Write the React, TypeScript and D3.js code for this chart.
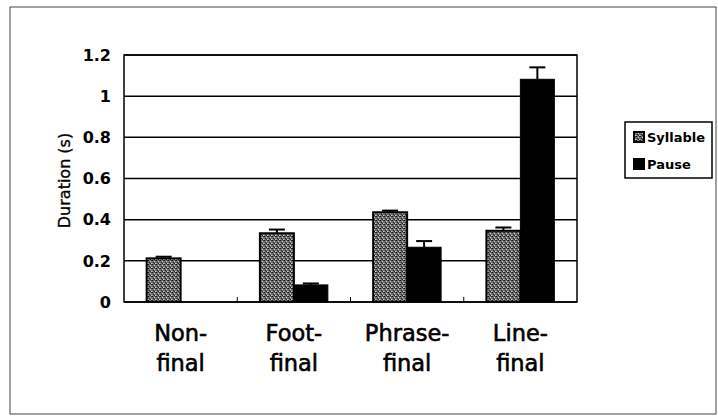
import React from "react";
import * as d3 from "d3";

const categories = ["Non-final", "Foot-final", "Phrase-final", "Line-final"];
const categoryLines = [["Non-", "final"], ["Foot-", "final"], ["Phrase-", "final"], ["Line-", "final"]];
const series = ["Syllable", "Pause"];
const syllableValues = [0.212, 0.334, 0.436, 0.346];
const syllableErrors = [0.008, 0.018, 0.008, 0.016];
const pauseValues = [0, 0.083, 0.266, 1.082];
const pauseErrors = [0, 0.007, 0.03, 0.058];
const yTicks = [0, 0.2, 0.4, 0.6, 0.8, 1, 1.2];

export default function App() {
  const W = 718, H = 420;
  const left = 124, right = 577, top = 55, bottom = 302;
  const x = d3.scaleBand<string>().domain(categories).range([left, right]).paddingInner(0.4).paddingOuter(0.2);
  const xs = d3.scaleBand<string>().domain(series).range([0, x.bandwidth()]);
  const y = d3.scaleLinear().domain([0, 1.2]).range([bottom, top]);
  const step = x.step();
  const font = "'DejaVu Sans', Verdana, sans-serif";
  const data = [
    { key: "Syllable", values: syllableValues, errs: syllableErrors },
    { key: "Pause", values: pauseValues, errs: pauseErrors },
  ];
  return (
    <svg width={W} height={H} style={{ position: "absolute", left: 0, top: 0, background: "#fff" }}>
      <defs>
        <pattern id="stipple" width="4" height="4" patternUnits="userSpaceOnUse">
          <rect width="4" height="4" fill="#6e6e6e" />
          <rect x="0" y="0" width="1" height="1" fill="#111" />
          <rect x="2" y="1" width="1" height="1" fill="#c8c8c8" />
          <rect x="1" y="2" width="1" height="1" fill="#222" />
          <rect x="3" y="3" width="1" height="1" fill="#d0d0d0" />
          <rect x="3" y="0" width="1" height="1" fill="#333" />
          <rect x="0" y="3" width="1" height="1" fill="#999" />
          <rect x="2" y="3" width="1" height="1" fill="#222" />
        </pattern>
      </defs>
      <rect x={10} y={7} width={706} height={407} fill="none" stroke="#444" strokeWidth={1} />
      {yTicks.map((t) => (
        <line key={t} x1={left} x2={right} y1={y(t)} y2={y(t)} stroke="#000" strokeWidth={1.5} />
      ))}
      <rect x={left} y={top} width={right - left} height={bottom - top} fill="none" stroke="#000" strokeWidth={1.5} />
      {[1, 2, 3].map((i) => (
        <line key={i} x1={left + i * step} x2={left + i * step} y1={bottom} y2={bottom - 5} stroke="#000" strokeWidth={1} />
      ))}
      {data.map((s) =>
        categories.map((c, i) => {
          const bx = (x(c) as number) + (xs(s.key) as number);
          const bw = xs.bandwidth();
          const v = s.values[i];
          if (v <= 0) return null;
          const cx = bx + bw / 2;
          return (
            <g key={s.key + c}>
              <line x1={cx} x2={cx} y1={y(v)} y2={y(v + s.errs[i])} stroke="#000" strokeWidth={2} />
              <line x1={cx - 8} x2={cx + 8} y1={y(v + s.errs[i])} y2={y(v + s.errs[i])} stroke="#000" strokeWidth={2} />
              <rect
                x={bx}
                y={y(v)}
                width={bw}
                height={bottom - y(v)}
                fill={s.key === "Syllable" ? "url(#stipple)" : "#000"}
                stroke="#000"
                strokeWidth={s.key === "Syllable" ? 2 : 1}
              />
            </g>
          );
        })
      )}
      {yTicks.map((t) => (
        <text key={t} x={111} y={y(t)} dy="0.36em" textAnchor="end" fontFamily={font} fontWeight="bold" fontSize={16} fill="#000">
          {d3.format("~g")(t)}
        </text>
      ))}
      <text transform={`translate(70,${(top + bottom) / 2 + 2}) rotate(-90)`} textAnchor="middle" fontFamily={font} fontSize={16} fill="#000" stroke="#000" strokeWidth={0.35}>
        Duration (s)
      </text>
      {categories.map((c, i) => {
        const cx = (x(c) as number) + x.bandwidth() / 2;
        return (
          <text key={c} x={cx} textAnchor="middle" fontFamily={font} fontSize={22.5} fill="#000" stroke="#000" strokeWidth={0.6}>
            <tspan x={cx} y={341}>{categoryLines[i][0]}</tspan>
            <tspan x={cx} y={371}>{categoryLines[i][1]}</tspan>
          </text>
        );
      })}
      <rect x={625} y={122} width={87} height={56} fill="#fff" stroke="#000" strokeWidth={1.5} />
      {series.map((s, i) => (
        <g key={s}>
          <rect x={634} y={132 + i * 27} width={10} height={10} fill={s === "Syllable" ? "url(#stipple)" : "#000"} stroke="#000" strokeWidth={2} />
          <text x={647} y={137 + i * 27} dy="0.36em" fontFamily={font} fontWeight="bold" fontSize={13} fill="#000">
            {s}
          </text>
        </g>
      ))}
    </svg>
  );
}
